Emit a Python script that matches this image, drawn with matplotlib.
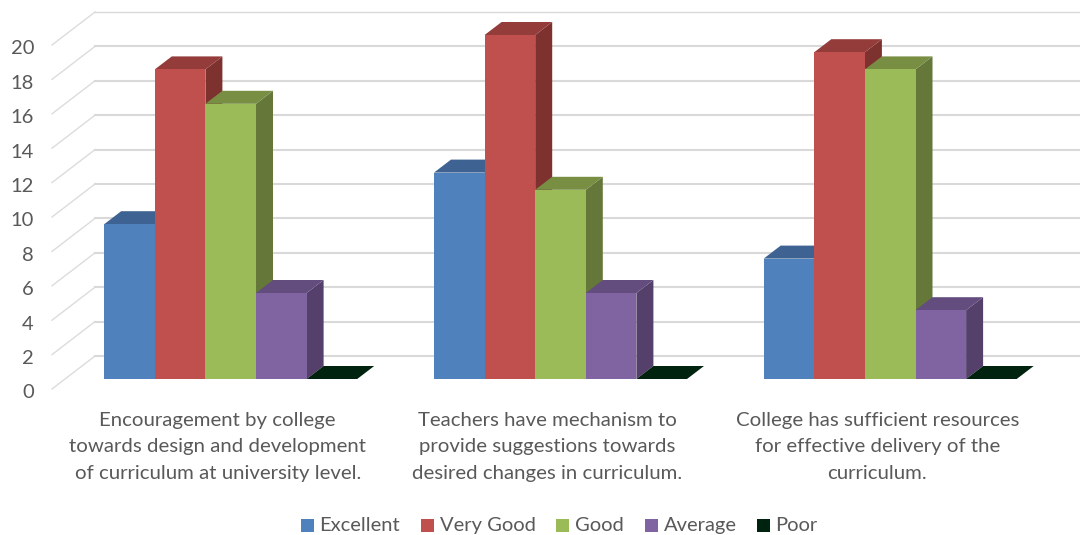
import matplotlib
matplotlib.use('Agg')
import matplotlib.pyplot as plt
from matplotlib.patches import Polygon, Rectangle

plt.rcParams['font.family'] = ['Lato', 'DejaVu Sans']

categories = ['Encouragement by college\ntowards design and development\nof curriculum at university level.',
              'Teachers have mechanism to\nprovide suggestions towards\ndesired changes in curriculum.',
              'College has sufficient resources\nfor effective delivery of the\ncurriculum.']
series = ['Excellent', 'Very Good', 'Good', 'Average', 'Poor']
excellent = [9, 12, 7]
very_good = [18, 20, 19]
good = [16, 11, 18]
average = [5, 5, 4]
poor = [0, 0, 0]
y_ticks = [0, 2, 4, 6, 8, 10, 12, 14, 16, 18, 20]

front = ['#4f81bd', '#c0504d', '#9bbb59', '#8064a2', '#00230f']
top = ['#3e6291', '#943c3a', '#778e43', '#634c7e', '#00230f']
side = ['#36557c', '#7d3230', '#65783a', '#54406b', '#00230f']

fig = plt.figure(figsize=(10.8, 5.35), dpi=100)
ax = fig.add_axes([0, 0, 1, 1])
ax.axis('off')
# x in pixels, y in chart values (17.2 px per unit, zero at pixel 379)
ax.set_xlim(0, 1080)
ax.set_ylim((379 - 535) / 17.2, 379 / 17.2)

px = 1 / 17.2
bar_w = 50.6
dep_x, dep_y = 17, 13 * px

# back wall gridlines and the slanted part on the left
for v in y_ticks:
    ax.plot([52, 95], [v - 10 * px, v + 23 * px], color='#dcdcdc', lw=1.0, zorder=1)
    ax.plot([95, 1080], [v + 23 * px, v + 23 * px], color='#d9d9d9', lw=1.0 if v == 20 else 1.5, zorder=1)
    ax.text(34, v - 14 * px, str(v), ha='right', va='center', fontsize=14.5, color='#595959')

group_x = [104.2, 434, 763.7]
all_vals = [excellent, very_good, good, average, poor]
for g, x0 in enumerate(group_x):
    for s, vals in enumerate(all_vals):
        v = vals[g]
        x = x0 + s * bar_w
        z = 3 + s
        ax.add_patch(Polygon([(x + bar_w, 0), (x + bar_w + dep_x, dep_y), (x + bar_w + dep_x, v + dep_y), (x + bar_w, v)],
                             fc=side[s], ec='none', zorder=z))
        ax.add_patch(Polygon([(x, v), (x + dep_x, v + dep_y), (x + bar_w + dep_x, v + dep_y), (x + bar_w, v)],
                             fc=top[s], ec='none', zorder=z))
        ax.add_patch(Rectangle((x, 0), bar_w, v, fc=front[s], ec='none', zorder=z))
    ax.text(x0 + 2.5 * bar_w - 13, -1.92, categories[g], ha='center', va='top', fontsize=14.7,
            color='#595959', linespacing=1.67)

# legend
leg_x = [301, 421, 556, 645, 757]
for name, c, lx in zip(series, front, leg_x):
    ax.add_patch(Rectangle((lx, (379 - 532) * px), 13, 13 * px, fc=c, ec='none'))
    ax.text(lx + 18.5, (379 - 525.5) * px, name, ha='left', va='center', fontsize=14.5, color='#595959')

fig.savefig('out.png', dpi=100)
